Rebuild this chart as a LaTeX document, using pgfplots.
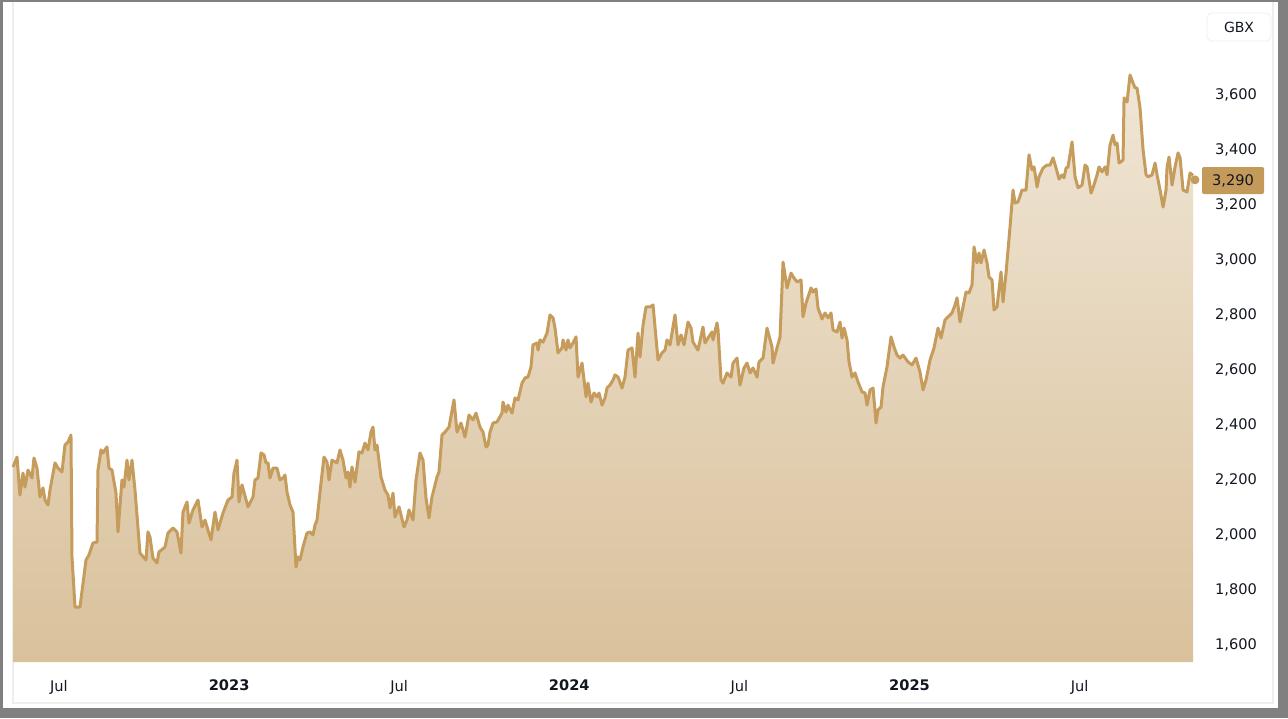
\documentclass[border=0pt]{standalone}
\usepackage{pgfplots}
\pgfplotsset{compat=1.18}
\usepackage{pgfplotstable}
\usepackage{fontspec}
\setmainfont{DejaVu Sans}
\definecolor{linec}{HTML}{C69C5C}
\definecolor{filltop}{HTML}{F0E6D6}
\definecolor{fillbot}{HTML}{D9C19B}
\definecolor{tickc}{HTML}{131722}
\definecolor{framec}{HTML}{808080}
\definecolor{panelc}{HTML}{EEEEEE}
\definecolor{tagc}{HTML}{C49A5A}

\pgfplotstableread{
x y
4.378 2240
4.519 2276
4.624 2138
4.730 2218
4.801 2167
4.907 2229
5.048 2200
5.118 2273
5.224 2236
5.330 2131
5.436 2164
5.506 2120
5.612 2102
5.683 2156
5.859 2255
5.965 2236
6.106 2222
6.212 2320
6.318 2331
6.423 2356
6.459 1913
6.565 1731
6.741 1731
6.953 1902
7.058 1920
7.199 1964
7.341 1967
7.376 2229
7.482 2302
7.552 2291
7.693 2313
7.764 2236
7.870 2229
8.011 2145
8.081 2004
8.222 2193
8.293 2167
8.399 2265
8.469 2193
8.575 2265
8.681 2156
8.857 1927
9.069 1902
9.139 2004
9.210 1985
9.316 1909
9.457 1891
9.527 1931
9.739 1949
9.845 2000
10.021 2018
10.162 2004
10.303 1927
10.374 2076
10.515 2113
10.586 2036
10.727 2084
10.903 2120
11.044 2022
11.150 2047
11.362 1975
11.503 2076
11.609 2011
11.785 2073
11.962 2120
12.103 2131
12.173 2218
12.279 2265
12.350 2113
12.455 2175
12.667 2095
12.843 2131
12.914 2193
13.020 2200
13.126 2291
13.231 2284
13.302 2255
13.373 2255
13.443 2200
13.549 2236
13.690 2236
13.796 2193
13.902 2200
13.972 2211
14.043 2149
14.149 2102
14.254 2076
14.360 1876
14.431 1913
14.501 1902
14.607 1949
14.748 2000
14.854 2004
14.960 1993
15.030 2029
15.101 2047
15.242 2182
15.348 2276
15.454 2258
15.524 2193
15.630 2265
15.806 2255
15.912 2302
16.018 2265
16.124 2200
16.194 2222
16.265 2167
16.335 2240
16.441 2185
16.582 2295
16.688 2291
16.794 2327
16.900 2302
17.005 2367
17.076 2385
17.146 2302
17.217 2320
17.358 2204
17.499 2156
17.605 2138
17.676 2091
17.782 2145
17.852 2058
17.993 2095
18.170 2022
18.275 2047
18.346 2084
18.487 2047
18.593 2193
18.734 2291
18.840 2265
18.946 2127
19.052 2055
19.157 2131
19.334 2204
19.404 2222
19.510 2356
19.616 2367
19.757 2385
19.933 2484
20.039 2367
20.180 2400
20.321 2349
20.462 2429
20.603 2411
20.709 2436
20.850 2385
20.956 2367
21.062 2313
21.132 2320
21.203 2367
21.309 2400
21.450 2404
21.626 2436
21.662 2476
21.767 2440
21.838 2465
21.979 2436
22.085 2491
22.191 2484
22.332 2545
22.438 2564
22.544 2567
22.649 2604
22.720 2684
22.861 2691
22.897 2665
22.967 2702
23.073 2694
23.214 2727
23.320 2793
23.426 2782
23.496 2745
23.602 2655
23.743 2673
23.779 2702
23.884 2665
23.955 2702
24.025 2673
24.131 2691
24.237 2713
24.308 2567
24.449 2618
24.590 2495
24.660 2545
24.766 2476
24.872 2509
24.978 2495
25.048 2509
25.154 2465
25.260 2491
25.331 2527
25.437 2538
25.542 2556
25.613 2575
25.719 2567
25.860 2527
25.966 2567
26.071 2665
26.212 2673
26.318 2567
26.424 2727
26.495 2640
26.601 2756
26.706 2822
26.848 2822
26.953 2829
27.130 2629
27.271 2655
27.377 2665
27.447 2702
27.553 2684
27.729 2793
27.835 2684
27.941 2720
28.047 2684
28.188 2767
28.293 2745
28.364 2694
28.540 2665
28.717 2749
28.787 2691
28.893 2709
29.034 2731
29.070 2702
29.211 2764
29.246 2738
29.352 2556
29.423 2545
29.564 2582
29.705 2567
29.775 2618
29.916 2636
30.022 2538
30.163 2600
30.269 2618
30.375 2582
30.481 2600
30.622 2567
30.692 2622
30.833 2636
30.974 2745
31.151 2676
31.186 2618
31.327 2673
31.433 2713
31.539 2985
31.680 2891
31.821 2945
31.927 2927
32.033 2913
32.174 2920
32.244 2786
32.350 2836
32.527 2891
32.597 2876
32.703 2887
32.774 2818
32.915 2778
33.021 2800
33.126 2782
33.232 2800
33.303 2738
33.444 2731
33.550 2767
33.620 2709
33.691 2745
33.797 2702
33.867 2622
33.973 2567
34.079 2582
34.185 2549
34.326 2513
34.432 2509
34.502 2465
34.608 2520
34.714 2527
34.820 2400
34.890 2447
34.996 2458
35.066 2531
35.207 2604
35.348 2713
35.454 2676
35.560 2647
35.666 2636
35.772 2647
35.948 2622
36.089 2611
36.230 2636
36.371 2585
36.477 2520
36.583 2556
36.724 2629
36.865 2673
37.006 2745
37.112 2709
37.253 2775
37.359 2786
37.500 2800
37.605 2829
37.676 2855
37.782 2767
37.888 2822
37.994 2876
38.099 2873
38.205 2902
38.276 3040
38.382 2982
38.452 3018
38.523 2982
38.629 3029
38.734 2982
38.805 2931
38.911 2920
38.981 2811
39.087 2822
39.228 2949
39.299 2840
39.405 2945
39.546 3113
39.652 3247
39.722 3200
39.828 3204
39.969 3247
40.110 3247
40.216 3375
40.322 3320
40.393 3331
40.499 3258
40.569 3295
40.710 3327
40.851 3338
40.957 3338
41.063 3364
41.169 3327
41.275 3287
41.380 3302
41.451 3291
41.522 3327
41.592 3331
41.733 3422
41.839 3295
41.945 3255
42.086 3265
42.192 3338
42.263 3331
42.404 3236
42.474 3255
42.615 3302
42.686 3331
42.792 3313
42.898 3331
42.968 3302
43.074 3411
43.180 3447
43.250 3411
43.321 3418
43.391 3345
43.532 3356
43.568 3582
43.674 3567
43.779 3665
43.885 3636
43.956 3618
44.026 3618
44.132 3545
44.238 3393
44.344 3302
44.414 3295
44.555 3302
44.661 3345
44.732 3302
44.838 3247
44.944 3185
45.049 3247
45.085 3331
45.155 3367
45.261 3265
45.367 3331
45.473 3382
45.544 3364
45.649 3247
45.790 3240
45.896 3309
46.000 3300
}\prices

\begin{document}
\begin{tikzpicture}
\begin{scope}[x=0.5pt,y=-0.5pt]
\useasboundingbox (0,0) rectangle (1288,718);
\fill[framec] (0,0) rectangle (1288,718);
\fill[white] (3,2) rectangle (1278,708);
\draw[panelc, line width=1pt] (12.5,2) -- (12.5,703) -- (1272.5,703) -- (1272.5,2);
\end{scope}
\begin{axis}[
  at={(6.5pt,-331pt)}, anchor=south west,
  scale only axis, width=590pt, height=324pt,
  xmin=4.378, xmax=46.0, ymin=1531, ymax=3887,
  axis line style={draw=none}, major tick length=0pt,
  clip=false,
  xtick={6,12,18,24,30,36,42},
  xticklabels={Jul,\textbf{2023},Jul,\textbf{2024},Jul,\textbf{2025},Jul},
  ytick={1600,1800,2000,2200,2400,2600,2800,3000,3200,3400,3600},
  yticklabel pos=right,
  every tick label/.append style={font=\fontsize{7.3}{8.8}\selectfont, text=tickc},
  xticklabel style={anchor=north, yshift=-5.5pt},
  yticklabel style={anchor=west, xshift=7.5pt, yshift=-0.8pt,
    /pgf/number format/assume math mode=true,
    /pgf/number format/1000 sep={,}},
]
\addplot[draw=none, top color=filltop, bottom color=fillbot]
  table[x=x,y=y] {\prices} -- (axis cs:46.0,1531) -- (axis cs:4.378,1531) -- cycle;
\addplot[linec, line width=1.5pt, line join=round] table[x=x,y=y] {\prices};
\addplot[only marks, mark=*, mark size=2pt, mark options={fill=linec, draw=linec}]
  coordinates {(46.07,3284)};
\end{axis}
\begin{scope}[x=0.5pt,y=-0.5pt]
\node[fill=tagc, rounded corners=1pt, minimum width=31pt, minimum height=13.5pt, inner sep=0pt,
  text=tickc, font=\fontsize{7.3}{8.8}\selectfont] at (1233,180.5) {3,290};
\node[fill=white, draw=panelc, rounded corners=2.5pt, minimum width=32pt, minimum height=14pt, inner sep=0pt,
  text=tickc, font=\fontsize{7}{8.4}\selectfont] at (1239,27) {GBX};
\end{scope}
\end{tikzpicture}
\end{document}
